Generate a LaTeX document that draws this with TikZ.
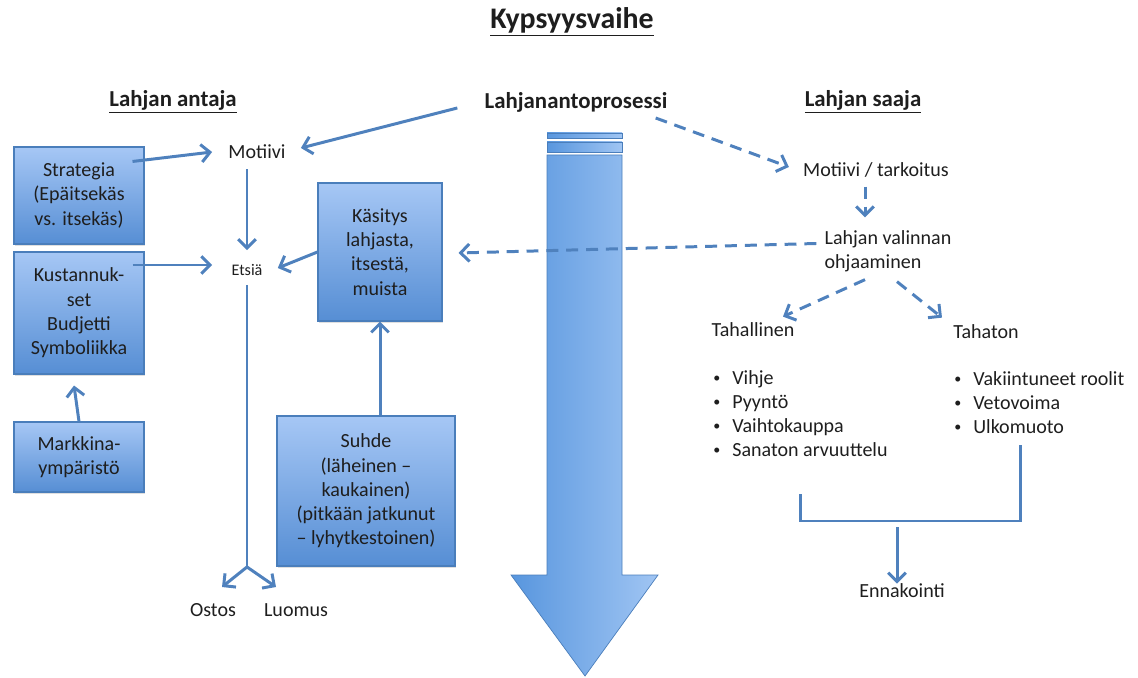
\documentclass[tikz,border=0pt]{standalone}
\usepackage{fontspec}
\setmainfont{Carlito}
\usetikzlibrary{arrows.meta,calc,positioning,shadows}
\definecolor{lnblue}{RGB}{79,129,189}
\definecolor{boxtop}{RGB}{166,199,245}
\definecolor{boxbot}{RGB}{86,142,212}
\definecolor{boxline}{RGB}{74,126,187}
\definecolor{arrleft}{RGB}{88,150,222}
\definecolor{arrright}{RGB}{160,197,243}
\definecolor{txt}{RGB}{30,30,30}
\newcommand{\blt}{\makebox[10.8pt][l]{\raisebox{1pt}{\fontsize{8}{8}\selectfont\textbullet}}}

\begin{document}
\begin{tikzpicture}[x=0.02cm, y=-0.02cm, every node/.style={font=\fontsize{11.4}{13.8}\selectfont, text=txt, inner sep=0pt}, >={Straight Barb[length=5pt,width=10pt]}, bx/.style={draw=boxline, line width=0.6pt, top color=boxtop, bottom color=boxbot, align=center, inner sep=2pt, drop shadow={opacity=0.25, shadow xshift=0.6pt, shadow yshift=-1.2pt}}, hd/.style={font=\fontsize{13}{15}\selectfont\bfseries}, ln/.style={draw=lnblue, line width=1.7pt}, dsh/.style={ln, dash pattern=on 6.8pt off 4.5pt}]
	\useasboundingbox (0,0) rectangle (1138,678);
	% headings
	\node[font=\fontsize{17}{20}\selectfont\bfseries] (title) at (572,22) {\underline{Kypsyysvaihe}};
	\node[hd] (giver) at (173,102) {\underline{Lahjan antaja}};
	\node[hd] (process) at (576,102) {Lahjanantoprosessi};
	\node[hd] (taker) at (863,102) {\underline{Lahjan saaja}};
	% big process arrow
	\shade[left color=arrleft, right color=arrright, draw=boxline, line width=0.4pt] (547,133) rectangle (622,138);
	\shade[left color=arrleft, right color=arrright, draw=boxline, line width=0.4pt] (547,142) rectangle (622,152);
	\shade[left color=arrleft, right color=arrright, draw=boxline, line width=0.4pt] (547,155) -- (622,155) -- (622,575) -- (658,575) -- (585,676) -- (511,575) -- (547,575) -- cycle;
	% giver side
	\node[bx, minimum width=2.6cm, minimum height=1.94cm] (strat) at (79,195.5) {Strategia\\(Epäitsekäs\\vs. itsekäs)};
	\node[bx, minimum width=2.6cm, minimum height=2.44cm] (cost) at (79,313) {Kustannuk-\\set\\Budjetti\\Symboliikka};
	\node[bx, minimum width=2.6cm, minimum height=1.4cm] (market) at (79,457) {Markkina-\\ympäristö};
	\node[bx, minimum width=2.48cm, minimum height=2.76cm] (view) at (380,252) {Käsitys\\lahjasta,\\itsestä,\\muista};
	\node[bx, minimum width=3.56cm, minimum height=3.0cm] (rel) at (366,491) {Suhde\\(läheinen –\\kaukainen)\\(pitkään jatkunut\\– lyhytkestoinen)};
	\node (motive) at (257,152) {Motiivi};
	\node[font=\fontsize{9.2}{11}\selectfont] (search) at (247,270) {Etsiä};
	\node (buy) at (213,610) {Ostos};
	\node (make) at (296,610) {Luomus};
	\coordinate (fork) at (247,567);
	% taker side
	\node (goal) at (876,170) {Motiivi / tarkoitus};
	\node[align=left] (steer) at (888,251.5) {Lahjan valinnan\\ohjaaminen};
	\node (intent) at (753,330) {Tahallinen};
	\node (unint) at (986,332) {Tahaton};
	\node[align=left, anchor=west] (list1) at (713,413.5) {\blt Vihje\\\blt Pyyntö\\\blt Vaihtokauppa\\\blt Sanaton arvuuttelu};
	\node[align=left, anchor=west] (list2) at (954,402.5) {\blt Vakiintuneet roolit\\\blt Vetovoima\\\blt Ulkomuoto};
	\node (antic) at (902,591) {Ennakointi};
	\coordinate (jn) at (897,521);
	% connectors
	\draw[ln,->] ($(process.west)+(-27,6)$) -- ($(motive.east)+(15,-4)$);
	\draw[ln,->] ($(strat.north east)+(-12,15)$) -- ($(motive.west)+(-16,0)$);
	\draw[ln,->] ($(cost.east)+(-12,-48)$) -- ($(search.west)+(-19,-5)$);
	\draw[ln,->] ($(search.north |- motive.south)+(0,10)$) -- ($(search.north)+(0,-14)$);
	\draw[ln,->] (view.west) -- ($(search.east)+(15,-2)$);
	\draw[ln,->] (market.north) -- ($(cost.south)+(-5,11)$);
	\draw[ln,->] (view.south |- rel.north) -- (view.south);
	\draw[ln] ($(search.south)+(0,9)$) -- (fork);
	\draw[ln,->] (fork) -- ($(fork)+(-25,20)$);
	\draw[ln,->] (fork) -- ($(fork)+(29,20)$);
	\draw[dsh,->] ($(process.east)+(-12,16)$) -- ($(goal.west)+(-14,-3)$);
	\draw[dsh,->] ($(goal.south)+(-11,9)$) -- ($(steer.north)+(-23,-13)$);
	\draw[dsh,->] ($(steer.west)+(-8,-8)$) -- ($(view.east)+(16,1)$);
	\draw[dsh,->] ($(steer.south)+(-23,7)$) -- ($(intent.north)+(30,-6)$);
	\draw[dsh,->] ($(steer.south)+(9,9)$) -- ($(unint.north west)+(-11,-7)$);
	\draw[ln] ($(list1.south)+(0,37)$) |- (jn) -| ($(list2.south)+(-19,11)$);
	\draw[ln,->] ($(jn)+(0,6)$) -- (jn |- antic.north);
\end{tikzpicture}
\end{document}
